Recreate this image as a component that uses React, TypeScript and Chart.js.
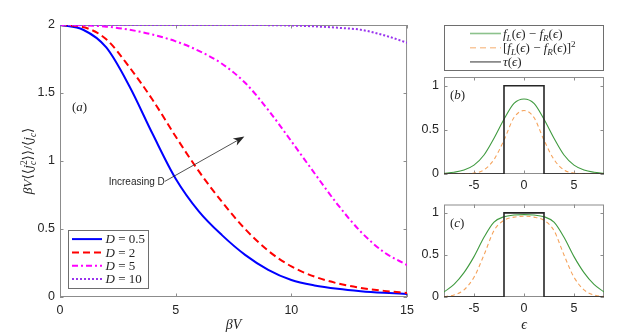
import React, { useEffect, useRef } from "react";
import { Chart, registerables } from "chart.js";
Chart.register(...registerables);

// ---------- data ----------
const betaV = [0, 1, 2, 3, 4, 5, 6, 7, 8, 9, 10, 11, 12, 13, 14, 15];
const ratioD05 = [2.0, 1.965, 1.835, 1.55, 1.2, 0.87, 0.63, 0.455, 0.31, 0.2, 0.125, 0.085, 0.06, 0.043, 0.031, 0.022];
const ratioD2 = [2.0, 1.985, 1.895, 1.69, 1.45, 1.18, 0.925, 0.7, 0.5, 0.34, 0.225, 0.15, 0.1, 0.067, 0.045, 0.03];
const ratioD5 = [2.0, 1.997, 1.988, 1.965, 1.93, 1.88, 1.81, 1.715, 1.575, 1.375, 1.145, 0.91, 0.68, 0.48, 0.33, 0.235];
const ratioD10 = [2.0, 2.0, 2.0, 2.0, 2.0, 2.0, 2.0, 2.0, 2.0, 1.999, 1.996, 1.99, 1.98, 1.965, 1.925, 1.87];
const dLabels = ["0.5", "2", "5", "10"];

const eps = [-8, -7, -6, -5, -4, -3, -2, -1, 0, 1, 2, 3, 4, 5, 6, 7, 8];
const diffB = [0.008, 0.02, 0.045, 0.1, 0.215, 0.405, 0.62, 0.8, 0.85, 0.8, 0.62, 0.405, 0.215, 0.1, 0.045, 0.02, 0.008];
const diffSqB = [0.0001, 0.0004, 0.002, 0.01, 0.046, 0.164, 0.384, 0.64, 0.72, 0.64, 0.384, 0.164, 0.046, 0.01, 0.002, 0.0004, 0.0001];
const diffC = [0.06, 0.15, 0.29, 0.48, 0.71, 0.89, 0.955, 0.975, 0.98, 0.975, 0.955, 0.89, 0.71, 0.48, 0.29, 0.15, 0.06];
const diffSqC = [0.004, 0.024, 0.085, 0.235, 0.5, 0.79, 0.912, 0.95, 0.96, 0.95, 0.912, 0.79, 0.5, 0.235, 0.085, 0.024, 0.004];
const tauEps = [-8, -2, -2, 2, 2, 8];
const tauVal = [0, 0, 1, 1, 0, 0];

const mainXTicks = [0, 5, 10, 15];
const mainYTicks = [0, 0.5, 1, 1.5, 2];
const panelXTicks = [-5, 0, 5];
const panelYTicks = [0, 0.5, 1];

// annotation anchors (data coordinates of main plot)
const arrowFrom = [4.53, 0.85];
const arrowTo = [7.97, 1.18];
const labelAPos = [0.52, 1.4];

// ---------- styles ----------
const SERIF = '"Liberation Serif","DejaVu Serif",serif';
const SANS = '"Liberation Sans","DejaVu Sans",sans-serif';
const TEXT = "#262626";
const AXIS = "#8c8c8c";
const TICK_SIZE = 12.5;

type Seg = { t: string; i?: boolean; p?: "sub" | "sup"; k?: boolean };

function segFont(s: Seg, size: number) {
  const sz = s.p ? size * 0.7 : size;
  return `${s.i ? "italic " : ""}${sz}px ${SERIF}`;
}
function richWidth(ctx: CanvasRenderingContext2D, segs: Seg[], size: number) {
  let w = 0;
  for (const s of segs) {
    ctx.font = segFont(s, size);
    if (!s.k) w += ctx.measureText(s.t).width;
  }
  return w;
}
function drawRich(ctx: CanvasRenderingContext2D, segs: Seg[], x: number, yMid: number, size: number, align: string, color: string) {
  ctx.save();
  ctx.fillStyle = color;
  ctx.textBaseline = "alphabetic";
  ctx.textAlign = "left";
  const w = richWidth(ctx, segs, size);
  let cx = align === "center" ? x - w / 2 : align === "right" ? x - w : x;
  const base = yMid + size * 0.33;
  for (const s of segs) {
    ctx.font = segFont(s, size);
    const dy = s.p === "sub" ? size * 0.25 : s.p === "sup" ? -size * 0.4 : 0;
    ctx.fillText(s.t, cx, base + dy);
    if (!s.k) cx += ctx.measureText(s.t).width;
  }
  ctx.restore();
}

const mainStyles = [
  { color: "#0000ff", dash: [] as number[] },
  { color: "#ff0000", dash: [7, 4] },
  { color: "#ff00ff", dash: [6, 3, 2, 3] },
  { color: "#9933ee", dash: [2, 2] },
];
const panelStyles = [
  { color: "#3f9a3f", dash: [] as number[], width: 1.1 },
  { color: "#f5a35c", dash: [4, 3], width: 1.1 },
  { color: "#262626", dash: [] as number[], width: 1.6 },
];

const framePlugin = {
  id: "frame",
  beforeDatasetsDraw(chart: any) {
    const { ctx, chartArea: a, scales } = chart;
    const sx = scales.x, sy = scales.y;
    ctx.save();
    ctx.strokeStyle = AXIS;
    ctx.lineWidth = 1;
    ctx.strokeRect(a.left + 0.5, a.top + 0.5, a.right - a.left - 1, a.bottom - a.top - 1);
    const tl = 3.5;
    ctx.beginPath();
    sx.ticks.forEach((t: any) => {
      const px = Math.round(sx.getPixelForValue(t.value)) + 0.5;
      ctx.moveTo(px, a.bottom); ctx.lineTo(px, a.bottom - tl);
      ctx.moveTo(px, a.top); ctx.lineTo(px, a.top + tl);
    });
    sy.ticks.forEach((t: any) => {
      const py = Math.round(sy.getPixelForValue(t.value)) + 0.5;
      ctx.moveTo(a.left, py); ctx.lineTo(a.left + tl, py);
      ctx.moveTo(a.right, py); ctx.lineTo(a.right - tl, py);
    });
    ctx.stroke();
    ctx.restore();
  },
};

const mainAnnot = {
  id: "mainAnnot",
  afterDatasetsDraw(chart: any) {
    const { ctx, chartArea: a, scales } = chart;
    const sx = scales.x, sy = scales.y;
    // (a)
    drawRich(ctx, [{ t: "(" }, { t: "a", i: true }, { t: ")" }], sx.getPixelForValue(labelAPos[0]), sy.getPixelForValue(labelAPos[1]), 13, "left", TEXT);
    // arrow
    const tx = sx.getPixelForValue(arrowFrom[0]), ty = sy.getPixelForValue(arrowFrom[1]);
    const hx = sx.getPixelForValue(arrowTo[0]), hy = sy.getPixelForValue(arrowTo[1]);
    const len = Math.hypot(hx - tx, hy - ty);
    const ux = (hx - tx) / len, uy = (hy - ty) / len;
    const nx = -uy, ny = ux;
    ctx.save();
    ctx.strokeStyle = TEXT;
    ctx.fillStyle = TEXT;
    ctx.lineWidth = 0.8;
    ctx.beginPath();
    ctx.moveTo(tx, ty);
    ctx.lineTo(hx - ux * 6, hy - uy * 6);
    ctx.stroke();
    ctx.beginPath();
    ctx.moveTo(hx, hy);
    ctx.lineTo(hx - ux * 11 + nx * 4, hy - uy * 11 + ny * 4);
    ctx.lineTo(hx - ux * 8, hy - uy * 8);
    ctx.lineTo(hx - ux * 11 - nx * 4, hy - uy * 11 - ny * 4);
    ctx.closePath();
    ctx.fill();
    ctx.font = `10px ${SANS}`;
    ctx.textAlign = "right";
    ctx.textBaseline = "middle";
    ctx.fillText("Increasing D", tx, ty + 1);
    ctx.restore();

    // legend box inside plot
    const bl = a.left + 8, bb = a.bottom - 9, rowH = 13.3;
    const n = chart.data.datasets.length;
    const bt = bb - rowH * n - 5;
    let maxW = 0;
    const rows: Seg[][] = chart.data.datasets.map((_: any, i: number) => [{ t: "D", i: true }, { t: " = " + dLabels[i] }]);
    rows.forEach((r) => { maxW = Math.max(maxW, richWidth(ctx, r, 13)); });
    const br = bl + 37.5 + maxW + 3;
    ctx.save();
    ctx.fillStyle = "#ffffff";
    ctx.fillRect(bl, bt, br - bl, bb - bt);
    ctx.strokeStyle = "#6e6e6e";
    ctx.lineWidth = 1;
    ctx.strokeRect(Math.round(bl) + 0.5, Math.round(bt) + 0.5, Math.round(br - bl), Math.round(bb - bt));
    rows.forEach((r, i) => {
      const yy = bt + 9.3 + i * rowH;
      const st = mainStyles[i];
      ctx.strokeStyle = st.color;
      ctx.lineWidth = 2;
      ctx.setLineDash(st.dash);
      ctx.beginPath();
      ctx.moveTo(bl + 4, yy);
      ctx.lineTo(bl + 34, yy);
      ctx.stroke();
      ctx.setLineDash([]);
      drawRich(ctx, r, bl + 37.5, yy, 13, "left", TEXT);
    });
    ctx.restore();

    // y-axis title
    ctx.save();
    ctx.translate(a.left - 32, (a.top + a.bottom) / 2);
    ctx.rotate(-Math.PI / 2);
    drawRich(ctx, [
      { t: "β", i: true }, { t: "V", i: true }, { t: "⟨⟨" }, { t: "j", i: true },
      { t: "c", i: true, p: "sub", k: true }, { t: "2", p: "sup" }, { t: "⟩⟩" }, { t: "/" },
      { t: "⟨" }, { t: "j", i: true }, { t: "c", i: true, p: "sub" }, { t: "⟩" },
    ], 0, 0, 13.5, "center", TEXT);
    ctx.restore();
  },
};

function panelLabel(letter: string) {
  return {
    id: "panelLabel" + letter,
    afterDatasetsDraw(chart: any) {
      const { ctx, chartArea: a } = chart;
      drawRich(ctx, [{ t: "(" }, { t: letter, i: true }, { t: ")" }], a.left + 6, a.top + 18, 13, "left", TEXT);
    },
  };
}

const rightLegend = {
  id: "rightLegend",
  afterDraw(chart: any) {
    const { ctx, chartArea: a } = chart;
    const top = 5, bottom = a.top - 7;
    ctx.save();
    ctx.fillStyle = "#ffffff";
    ctx.fillRect(a.left, top, a.right - a.left, bottom - top);
    ctx.strokeStyle = "#6e6e6e";
    ctx.lineWidth = 1;
    ctx.strokeRect(a.left + 0.5, top + 0.5, a.right - a.left - 1, bottom - top);
    const rows: Seg[][] = [
      [{ t: "f", i: true }, { t: "L", i: true, p: "sub" }, { t: "(" }, { t: "ϵ", i: true }, { t: ")" }, { t: " − " }, { t: "f", i: true }, { t: "R", i: true, p: "sub" }, { t: "(" }, { t: "ϵ", i: true }, { t: ")" }],
      [{ t: "[" }, { t: "f", i: true }, { t: "L", i: true, p: "sub" }, { t: "(" }, { t: "ϵ", i: true }, { t: ")" }, { t: " − " }, { t: "f", i: true }, { t: "R", i: true, p: "sub" }, { t: "(" }, { t: "ϵ", i: true }, { t: ")]" }, { t: "2", p: "sup" }],
      [{ t: "τ", i: true }, { t: "(" }, { t: "ϵ", i: true }, { t: ")" }],
    ];
    rows.forEach((r, i) => {
      const yy = top + 8.5 + i * 14.2;
      const st = panelStyles[i];
      ctx.save();
      ctx.globalAlpha = 0.6;
      ctx.strokeStyle = st.color;
      ctx.lineWidth = 1.6;
      ctx.setLineDash(st.dash.length ? [6, 4] : []);
      ctx.beginPath();
      ctx.moveTo(a.left + 26, yy);
      ctx.lineTo(a.left + 57, yy);
      ctx.stroke();
      ctx.restore();
      drawRich(ctx, r, a.left + 59, yy, 13, "left", TEXT);
    });
    ctx.restore();
  },
};

function axisBase(min: number, max: number, ticks: number[], pad: number) {
  return {
    type: "linear",
    min,
    max,
    afterBuildTicks: (s: any) => { s.ticks = ticks.map((v) => ({ value: v })); },
    grid: { display: false, drawTicks: false },
    border: { display: false },
    ticks: {
      color: TEXT,
      font: { family: SANS, size: TICK_SIZE },
      padding: pad,
      maxRotation: 0,
      autoSkip: false,
      callback: (v: any) => String(Number(v)),
    },
  };
}

function mainConfig(): any {
  const series = [ratioD05, ratioD2, ratioD5, ratioD10];
  return {
    type: "line",
    data: {
      datasets: series.map((vals, i) => ({
        label: "D = " + dLabels[i],
        data: betaV.map((b, j) => ({ x: b, y: vals[j] })),
        borderColor: mainStyles[i].color,
        borderDash: mainStyles[i].dash,
        borderWidth: 2,
        pointRadius: 0,
        fill: false,
        cubicInterpolationMode: "monotone",
        order: 4 - i,
      })),
    },
    options: {
      animation: false,
      responsive: false,
      devicePixelRatio: 1,
      layout: { padding: { top: 25, right: 12, left: 0, bottom: 0 } },
      plugins: { legend: { display: false }, tooltip: { enabled: false } },
      scales: {
        x: {
          ...axisBase(0, 15, mainXTicks, 6),
          afterFit: (s: any) => { s.height = 37; },
          title: { display: true, text: "βV", color: TEXT, font: { family: SERIF, style: "italic", size: 14 }, padding: 0 },
        },
        y: {
          ...axisBase(0, 2, mainYTicks, 5),
          afterFit: (s: any) => { s.width = 60; },
        },
      },
    },
    plugins: [framePlugin, mainAnnot],
  };
}

function panelConfig(which: "b" | "c"): any {
  const diff = which === "b" ? diffB : diffC;
  const sq = which === "b" ? diffSqB : diffSqC;
  const mk = (xs: number[], ys: number[]) => xs.map((x, i) => ({ x, y: ys[i] }));
  const sets = [
    { label: "f_L - f_R", data: mk(eps, diff), st: panelStyles[0], order: 2, mono: true },
    { label: "[f_L - f_R]^2", data: mk(eps, sq), st: panelStyles[1], order: 1, mono: true },
    { label: "tau", data: mk(tauEps, tauVal), st: panelStyles[2], order: 0, mono: false },
  ];
  const xAxis: any = { ...axisBase(-8, 8, panelXTicks, 4) };
  if (which === "b") {
    xAxis.afterFit = (s: any) => { s.height = 18; };
  } else {
    xAxis.afterFit = (s: any) => { s.height = 37; };
    xAxis.title = { display: true, text: "ϵ", color: TEXT, font: { family: SERIF, style: "italic", size: 14 }, padding: 0 };
  }
  return {
    type: "line",
    data: {
      datasets: sets.map((d) => ({
        label: d.label,
        data: d.data,
        borderColor: d.st.color,
        borderDash: d.st.dash,
        borderWidth: d.st.width,
        pointRadius: 0,
        fill: false,
        tension: 0,
        cubicInterpolationMode: d.mono ? "monotone" : "default",
        order: d.order,
      })),
    },
    options: {
      animation: false,
      responsive: false,
      devicePixelRatio: 1,
      layout: { padding: { top: which === "b" ? 57 : 5, right: 30, left: 0, bottom: 0 } },
      plugins: { legend: { display: false }, tooltip: { enabled: false } },
      scales: {
        x: xAxis,
        y: { ...axisBase(0, 1.1, panelYTicks, 5), afterFit: (s: any) => { s.width = 24; } },
      },
    },
    plugins: which === "b" ? [framePlugin, panelLabel("b"), rightLegend] : [framePlugin, panelLabel("c")],
  };
}

export default function App() {
  const mainRef = useRef<HTMLCanvasElement>(null);
  const bRef = useRef<HTMLCanvasElement>(null);
  const cRef = useRef<HTMLCanvasElement>(null);
  useEffect(() => {
    const charts = [
      new Chart(mainRef.current as HTMLCanvasElement, mainConfig()),
      new Chart(bRef.current as HTMLCanvasElement, panelConfig("b")),
      new Chart(cRef.current as HTMLCanvasElement, panelConfig("c")),
    ];
    return () => charts.forEach((c) => c.destroy());
  }, []);
  const abs = (l: number, t: number, w: number, h: number): React.CSSProperties => ({ position: "absolute", left: l, top: t, width: w, height: h });
  return (
    <div style={{ position: "fixed", left: 0, top: 0, width: 634, height: 334, background: "#ffffff" }}>
      <canvas ref={mainRef} width={420} height={334} style={abs(0, 0, 420, 334)} />
      <canvas ref={bRef} width={214} height={172} style={abs(420, 20, 214, 172)} />
      <canvas ref={cRef} width={214} height={142} style={abs(420, 192, 214, 142)} />
    </div>
  );
}
